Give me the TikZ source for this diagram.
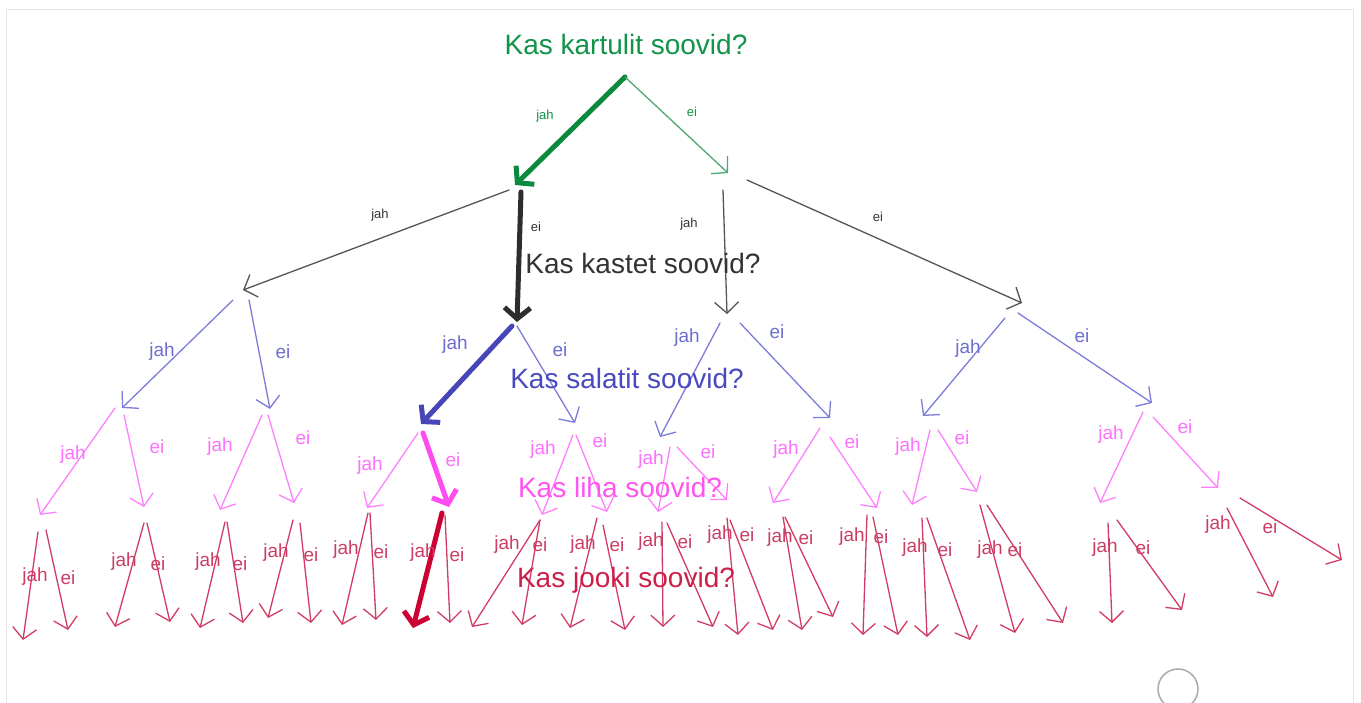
\documentclass[tikz,border=0pt]{standalone}
\usepackage{fontspec}
\setmainfont{Liberation Sans}
\usetikzlibrary{arrows.meta}
\definecolor{gthick}{HTML}{0B8A3E}
\definecolor{gthin}{HTML}{4FA873}
\definecolor{gtext}{HTML}{12934A}
\definecolor{kthin}{HTML}{555555}
\definecolor{kthick}{HTML}{2D2D2D}
\definecolor{ktext}{HTML}{333333}
\definecolor{bthin}{HTML}{7C7CD9}
\definecolor{bthick}{HTML}{4646B9}
\definecolor{btext}{HTML}{6E6ED0}
\definecolor{bq}{HTML}{4A4AC0}
\definecolor{mthin}{HTML}{FF80FF}
\definecolor{mthick}{HTML}{FF4CF0}
\definecolor{mtext}{HTML}{FF70FF}
\definecolor{mq}{HTML}{FF55EE}
\definecolor{rthin}{HTML}{D23C64}
\definecolor{rthick}{HTML}{CC0033}
\definecolor{rtext}{HTML}{CC3D66}
\definecolor{rq}{HTML}{CC1F4A}
\definecolor{framegray}{HTML}{E4E4E4}
\definecolor{circgray}{HTML}{AAAAAA}
\tikzset{
  thinarr/.style={line width=1.3pt, -{Straight Barb[length=11pt,width=24pt]}, line cap=round, line join=round},
  thickarr/.style={line width=5pt, -{Straight Barb[length=11pt,width=26pt]}, line cap=round, line join=round},
  smalllab/.style={inner sep=0pt, font=\fontsize{13}{14}\selectfont},
  biglab/.style={inner sep=0pt, font=\fontsize{19}{20}\selectfont},
  question/.style={inner sep=0pt, font=\fontsize{28}{30}\selectfont},
  g0/.style={thinarr, gthin}, G0/.style={thickarr, gthick}, l0/.style={smalllab, gtext},
  g1/.style={thinarr, kthin}, G1/.style={thickarr, kthick}, l1/.style={smalllab, ktext},
  g2/.style={thinarr, bthin}, G2/.style={thickarr, bthick}, l2/.style={biglab, btext},
  g3/.style={thinarr, mthin}, G3/.style={thickarr, mthick}, l3/.style={biglab, mtext},
  g4/.style={thinarr, rthin}, G4/.style={thickarr, rthick}, l4/.style={biglab, rtext},
}
\newcommand\tbr[7]{\coordinate (#1s) at (#3); \coordinate (#1e) at (#4); \draw[#2] (#1s) -- (#1e); \node[#5] (#1l) at (#6) {#7};}
\begin{document}
\begin{tikzpicture}[x=1pt,y=-1pt]
\useasboundingbox (0,0) rectangle (1361,703);
\fill[white] (0,0) rectangle (1361,703);
\draw[framegray, line width=1pt] (6,710) -- (6,10) -- (1353,10) -- (1353,710);
\draw[circgray, line width=1.5pt] (1178,689) circle (20);

% level 0
\tbr{a}{G0}{625,77}{515,185}{l0}{545,116}{jah}
\tbr{b}{g0}{625,77}{728,173}{l0}{692,112}{ei}
% level 1
\tbr{aa}{g1}{509,190}{243,290}{l1}{380,215}{jah}
\tbr{ab}{G1}{521,192}{517,322}{l1}{536,227}{ei}
\tbr{ba}{g1}{723,190}{727,314}{l1}{689,224}{jah}
\tbr{bb}{g1}{747,180}{1022,303}{l1}{878,217}{ei}
% level 2
\tbr{aaa}{g2}{233,300}{122,408}{l2}{162,352}{jah}
\tbr{aab}{g2}{249,300}{270,409}{l2}{283,352}{ei}
\tbr{aba}{G2}{512,326}{421,424}{l2}{455,345}{jah}
\tbr{abb}{g2}{517,326}{575,423}{l2}{560,350}{ei}
\tbr{baa}{g2}{720,323}{660,437}{l2}{687,338}{jah}
\tbr{bab}{g2}{740,323}{830,418}{l2}{777,332}{ei}
\tbr{bba}{g2}{1005,318}{923,416}{l2}{968,349}{jah}
\tbr{bbb}{g2}{1018,313}{1152,403}{l2}{1082,336}{ei}
% level 3
\tbr{c1}{g3}{115,408}{40,515}{l3}{73,455}{jah}
\tbr{c2}{g3}{124,415}{144,507}{l3}{157,447}{ei}
\tbr{c3}{g3}{262,415}{220,510}{l3}{220,447}{jah}
\tbr{c4}{g3}{268,415}{294,503}{l3}{303,438}{ei}
\tbr{c5}{g3}{418,433}{367,508}{l3}{370,466}{jah}
\tbr{c6}{G3}{423,433}{449,507}{l3}{453,460}{ei}
\tbr{c7}{g3}{573,435}{542,515}{l3}{543,450}{jah}
\tbr{c8}{g3}{576,435}{607,512}{l3}{600,441}{ei}
\tbr{c9}{g3}{670,447}{658,512}{l3}{651,460}{jah}
\tbr{c10}{g3}{677,447}{727,500}{l3}{708,452}{ei}
\tbr{c11}{g3}{820,428}{773,503}{l3}{786,450}{jah}
\tbr{c12}{g3}{830,437}{877,508}{l3}{852,442}{ei}
\tbr{c13}{g3}{930,430}{912,505}{l3}{908,447}{jah}
\tbr{c14}{g3}{938,430}{977,492}{l3}{962,438}{ei}
\tbr{c15}{g3}{1143,412}{1100,503}{l3}{1111,435}{jah}
\tbr{c16}{g3}{1153,417}{1218,488}{l3}{1185,427}{ei}
% level 4
\tbr{d1}{g4}{38,532}{23,640}{l4}{35,577}{jah}
\tbr{d2}{g4}{46,530}{68,630}{l4}{68,578}{ei}
\tbr{d3}{g4}{144,523}{115,627}{l4}{124,562}{jah}
\tbr{d4}{g4}{147,523}{170,622}{l4}{158,564}{ei}
\tbr{d5}{g4}{225,522}{200,628}{l4}{208,562}{jah}
\tbr{d6}{g4}{227,522}{243,623}{l4}{240,564}{ei}
\tbr{d7}{g4}{293,520}{268,618}{l4}{276,553}{jah}
\tbr{d8}{g4}{300,523}{311,623}{l4}{311,555}{ei}
\tbr{d9}{g4}{368,513}{342,625}{l4}{346,550}{jah}
\tbr{d10}{g4}{370,513}{376,620}{l4}{381,552}{ei}
\tbr{d11}{G4}{442,513}{413,628}{l4}{423,553}{jah}
\tbr{d12}{g4}{445,515}{450,623}{l4}{457,555}{ei}
\tbr{d13}{g4}{540,520}{472,627}{l4}{507,545}{jah}
\tbr{d14}{g4}{540,520}{522,625}{l4}{540,545}{ei}
\tbr{d15}{g4}{597,518}{570,628}{l4}{583,545}{jah}
\tbr{d16}{g4}{603,525}{625,630}{l4}{617,545}{ei}
\tbr{d17}{g4}{662,522}{663,627}{l4}{651,542}{jah}
\tbr{d18}{g4}{667,523}{713,627}{l4}{685,542}{ei}
\tbr{d19}{g4}{727,518}{738,635}{l4}{720,535}{jah}
\tbr{d20}{g4}{730,520}{773,630}{l4}{747,535}{ei}
\tbr{d21}{g4}{783,517}{802,630}{l4}{780,538}{jah}
\tbr{d22}{g4}{785,517}{833,617}{l4}{806,538}{ei}
\tbr{d23}{g4}{867,515}{863,635}{l4}{852,537}{jah}
\tbr{d24}{g4}{873,517}{898,635}{l4}{881,537}{ei}
\tbr{d25}{g4}{922,518}{927,637}{l4}{915,548}{jah}
\tbr{d26}{g4}{927,518}{970,640}{l4}{945,550}{ei}
\tbr{d27}{g4}{980,505}{1015,633}{l4}{990,550}{jah}
\tbr{d28}{g4}{987,505}{1063,623}{l4}{1015,550}{ei}
\tbr{d29}{g4}{1108,523}{1112,623}{l4}{1105,548}{jah}
\tbr{d30}{g4}{1117,520}{1182,610}{l4}{1143,548}{ei}
\tbr{d31}{g4}{1227,508}{1273,597}{l4}{1218,525}{jah}
\tbr{d32}{g4}{1240,498}{1342,560}{l4}{1270,527}{ei}

% questions
\node[question, gtext] (q1) at (626,44) {Kas kartulit soovid?};
\node[question, ktext] (q2) at (643,263) {Kas kastet soovid?};
\node[question, bq] (q3) at (627,378) {Kas salatit soovid?};
\node[question, mq] (q4) at (620,487) {Kas liha soovid?};
\node[question, rq] (q5) at (626,580) {Kas jooki soovid?};
\end{tikzpicture}
\end{document}
